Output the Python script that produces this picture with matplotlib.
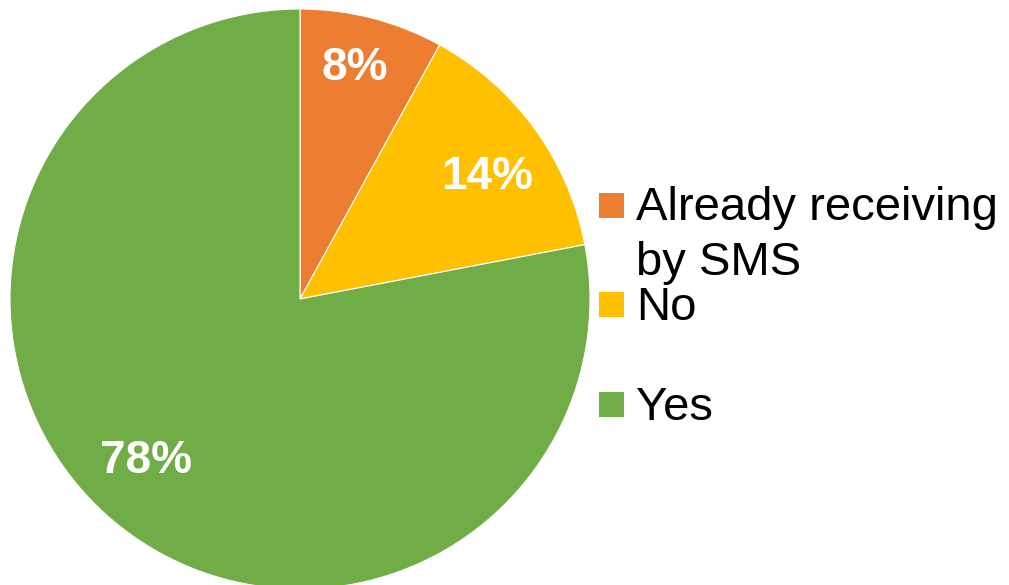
import numpy as np
import matplotlib
matplotlib.use("Agg")
import matplotlib.pyplot as plt
from matplotlib.patches import Rectangle

plt.rcParams['font.family'] = ['Liberation Sans', 'DejaVu Sans']

# Survey answers
categories = ["Already receiving\nby SMS", "No", "Yes"]
shares = [8, 14, 78]
colors = ["#ED7D31", "#FFC000", "#70AD47"]

# placement of the percentage labels inside each wedge
label_dist = [0.82, 0.77, 0.77]      # fraction of radius
label_turn = [1.0, -3.0, -4.0]       # degrees off the wedge mid-angle

W, H = 1009, 585
fig = plt.figure(figsize=(W / 100, H / 100), dpi=100)

# pie axes: centre at (300, 299) px from top-left, radius 290 px
cx, cy, r = 300, 299, 290
ax = fig.add_axes([(cx - r) / W, (H - cy - r) / H, 2 * r / W, 2 * r / H])
wedges, _, autotexts = ax.pie(
    shares, colors=colors, startangle=90, counterclock=False, radius=1,
    autopct=lambda p: f"{p:.0f}%", pctdistance=0.79,
    wedgeprops=dict(linewidth=0.8, edgecolor="white"),
    textprops=dict(color="white", fontsize=33, fontweight="bold"),
)
for w, t, d, turn in zip(wedges, autotexts, label_dist, label_turn):
    mid = np.deg2rad((w.theta1 + w.theta2) / 2 + turn)
    t.set_position((d * np.cos(mid), d * np.sin(mid)))
ax.set_xlim(-1, 1)
ax.set_ylim(-1, 1)
ax.set_aspect("equal")
ax.axis("off")

# legend drawn by hand: square swatch + label, first line aligned with swatch
swatch_centres = [205, 304.5, 404.5]
line_step = 55
for label, col, yc in zip(categories, colors, swatch_centres):
    fig.patches.append(Rectangle((599 / W, (H - yc - 12.5) / H), 25 / W, 25 / H,
                                 facecolor=col, edgecolor="none",
                                 transform=fig.transFigure))
    for i, line in enumerate(label.split("\n")):
        fig.text(636 / W, (H - yc - 15 - i * line_step) / H, line, fontsize=34,
                 color="black", ha="left", va="baseline")

fig.savefig("out.png", dpi=100)
